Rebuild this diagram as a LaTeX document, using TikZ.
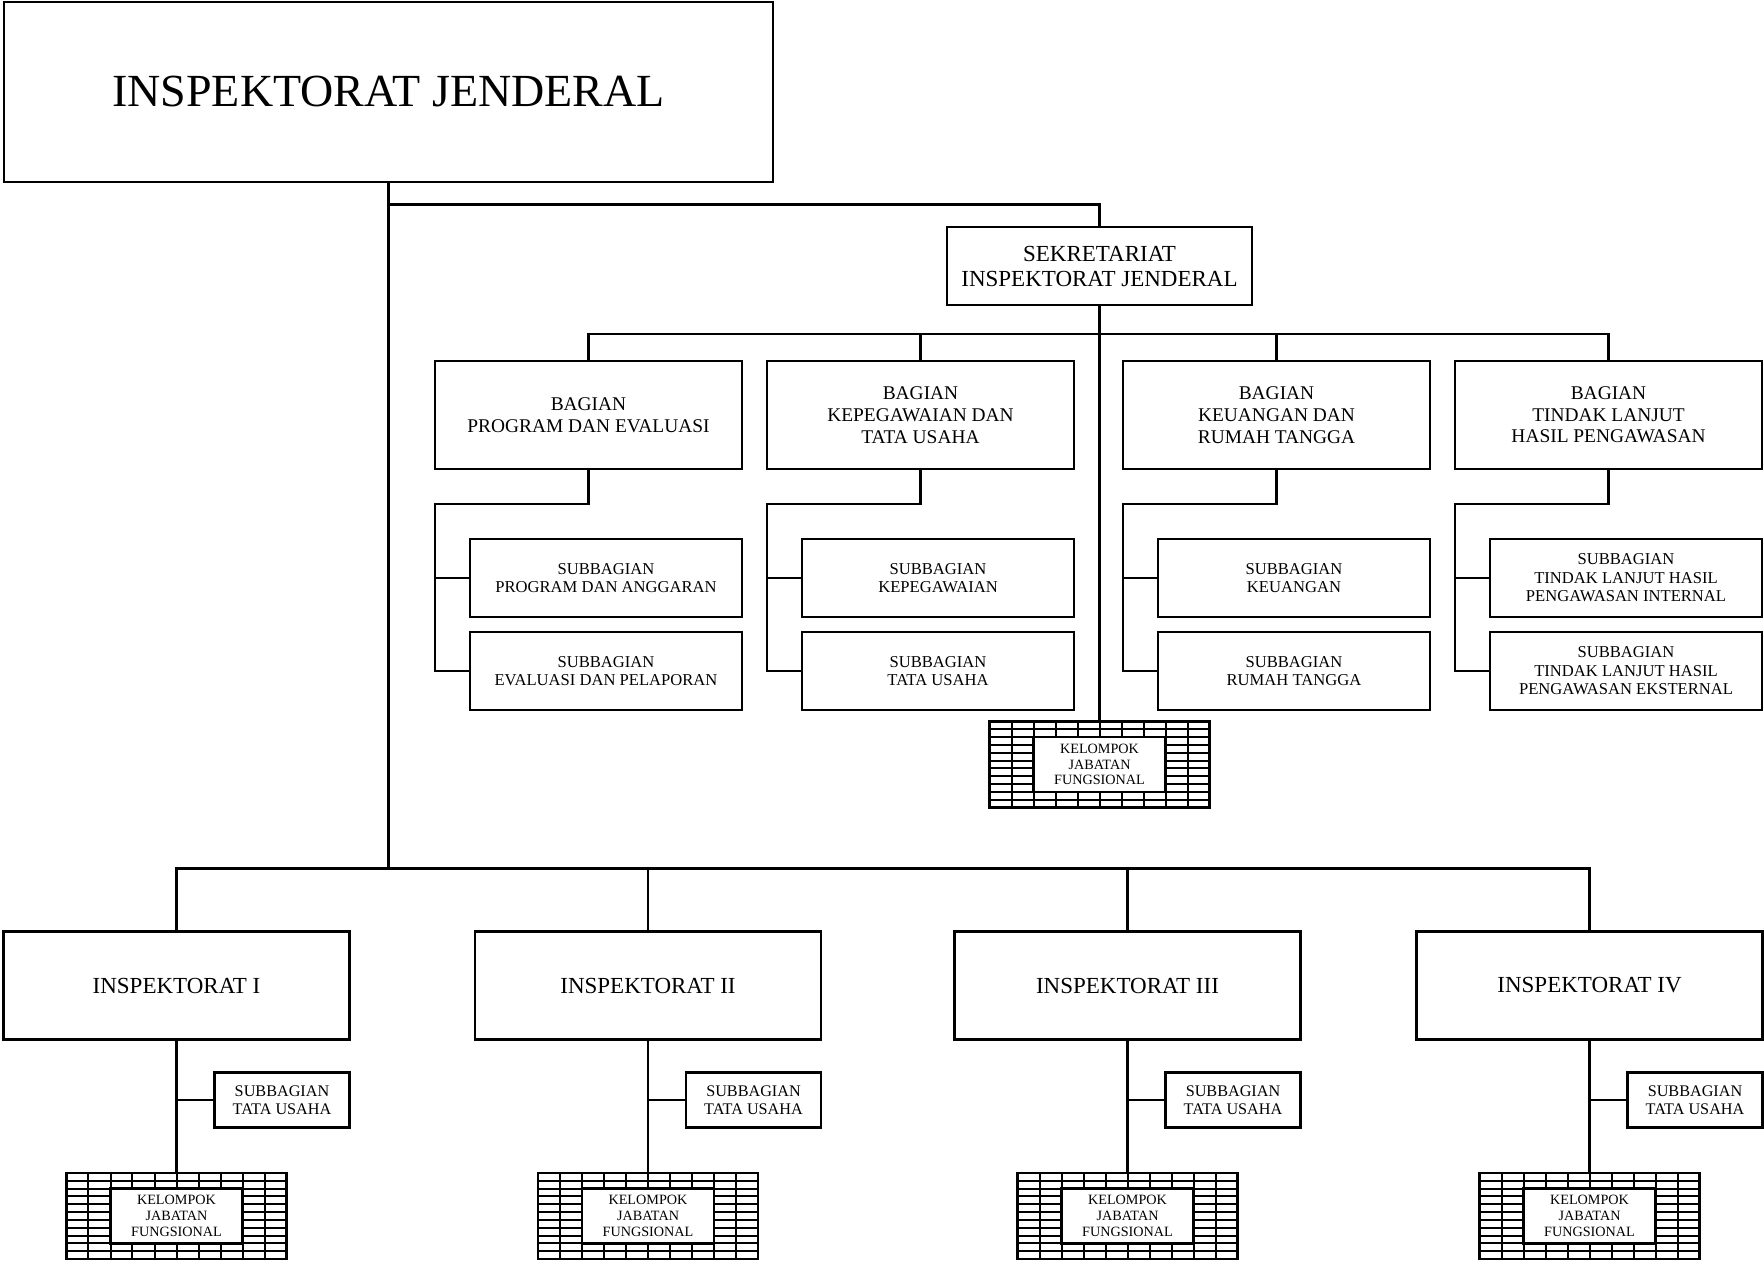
\documentclass[tikz,border=0pt]{standalone}
\usepackage{fontspec}
\setmainfont{Liberation Serif}
\usetikzlibrary{%
	calc,%
	positioning,%
}
\tikzset{
	nodes={align=center},
}
% box with a grid of bricks round the text
\newcommand{\kjfbox}[2]{%
	\node[kgrid, #2] (#1) {};
	\foreach \kc in {1,...,9}
		\draw[kline] ($(#1.south west)!\kc/10!(#1.south east)$) -- ($(#1.north west)!\kc/10!(#1.north east)$);
	\foreach \kr in {1,...,10}
		\draw[kline] ($(#1.south west)!\kr/11!(#1.north west)$) -- ($(#1.south east)!\kr/11!(#1.north east)$);
	\node[kjf] (#1in) at (#1) {KELOMPOK\\JABATAN\\FUNGSIONAL};
}

\begin{document}
\begin{tikzpicture}[x=0.5pt, y=-0.5pt,%
		box/.style={draw, line width=1.3pt, outer sep=0pt, inner sep=2pt},%
		line/.style={line width=1.2pt},%
		trunk/.style={line width=1.7pt},%
		head/.style={box, minimum width=384.5pt, minimum height=90pt, font=\fontsize{23}{27}\selectfont},%
		sekr/.style={box, minimum width=152.5pt, minimum height=39pt, font=\fontsize{11.5}{12.5}\selectfont},%
		bagian/.style={box, minimum width=153.5pt, minimum height=54pt, font=\fontsize{9.7}{10.85}\selectfont},%
		subbag/.style={box, minimum width=136pt, minimum height=39pt, font=\fontsize{8.3}{9.2}\selectfont},%
		insp/.style={box, minimum width=173pt, minimum height=54pt, font=\fontsize{11.5}{12.5}\selectfont},%
		tusaha/.style={box, minimum width=67.5pt, minimum height=27.5pt, inner sep=1pt, font=\fontsize{8.1}{9.2}\selectfont},%
		kgrid/.style={draw, line width=1.3pt, outer sep=0pt, inner sep=0pt, minimum width=110pt, minimum height=43pt},%
		kline/.style={line width=1pt},%
		kjf/.style={draw, fill=white, line width=1.3pt, outer sep=0pt, inner sep=0pt, minimum width=66pt, minimum height=27.4pt, font=\fontsize{7.1}{7.9}\selectfont}]
	\useasboundingbox (0,0) rectangle (1764,1261);

	\node[head] (ij) at (388.5,92) {INSPEKTORAT JENDERAL};
	\node[sekr] (sek) at (1099.5,266) {SEKRETARIAT\\INSPEKTORAT JENDERAL};

	\node[bagian] (bpe) at (588.5,415) {BAGIAN\\PROGRAM DAN EVALUASI};
	\node[bagian] (bktu) at (920.5,415) {BAGIAN\\KEPEGAWAIAN DAN\\TATA USAHA};
	\node[bagian] (bkrt) at (1276.5,415) {BAGIAN\\KEUANGAN DAN\\RUMAH TANGGA};
	\node[bagian] (btl) at (1608.5,415) {BAGIAN\\TINDAK LANJUT\\HASIL PENGAWASAN};

	\node[subbag] (spa) [below left=35pt and 0pt of bpe.south east] {SUBBAGIAN\\PROGRAM DAN ANGGARAN};
	\node[subbag] (sep) [below=7.5pt of spa] {SUBBAGIAN\\EVALUASI DAN PELAPORAN};
	\node[subbag] (skp) [below left=35pt and 0pt of bktu.south east] {SUBBAGIAN\\KEPEGAWAIAN};
	\node[subbag] (stu) [below=7.5pt of skp] {SUBBAGIAN\\TATA USAHA};
	\node[subbag] (sku) [below left=35pt and 0pt of bkrt.south east] {SUBBAGIAN\\KEUANGAN};
	\node[subbag] (srt) [below=7.5pt of sku] {SUBBAGIAN\\RUMAH TANGGA};
	\node[subbag] (sti) [below left=35pt and 0pt of btl.south east] {SUBBAGIAN\\TINDAK LANJUT HASIL\\PENGAWASAN INTERNAL};
	\node[subbag] (ste) [below=7.5pt of sti] {SUBBAGIAN\\TINDAK LANJUT HASIL\\PENGAWASAN EKSTERNAL};

	\kjfbox{kjfs}{below=208.25pt of sek}

	\node[insp] (insp1) at (176.5,985.5) {INSPEKTORAT I};
	\node[insp] (insp2) at (648,985.5) {INSPEKTORAT II};
	\node[insp] (insp3) at (1127.5,985.5) {INSPEKTORAT III};
	\node[insp] (insp4) at (1589.5,985.5) {INSPEKTORAT IV};

	\node[tusaha] (tu1) [below left=16.5pt and 0pt of insp1.south east] {SUBBAGIAN\\TATA USAHA};
	\node[tusaha] (tu2) [below left=16.5pt and 0pt of insp2.south east] {SUBBAGIAN\\TATA USAHA};
	\node[tusaha] (tu3) [below left=16.5pt and 0pt of insp3.south east] {SUBBAGIAN\\TATA USAHA};
	\node[tusaha] (tu4) [below left=16.5pt and 0pt of insp4.south east] {SUBBAGIAN\\TATA USAHA};

	\kjfbox{kjf1}{below=66.75pt of insp1}
	\kjfbox{kjf2}{below=66.75pt of insp2}
	\kjfbox{kjf3}{below=66.75pt of insp3}
	\kjfbox{kjf4}{below=66.75pt of insp4}

	\coordinate (sekj) at (388.5,204.5);
	\coordinate (bagj) at (1099.5,334);
	\coordinate (inspj) at (388.5,868.5);

	\draw[trunk] (ij.south) -- (inspj);
	\draw[line] (sekj) -| (sek.north);
	\draw[line] (sek.south) -- (kjfs.north);

	\draw[line] (bpe.north) |- (bagj) -| (btl.north);
	\draw[line] (bktu.north) -- (bktu.north |- bagj);
	\draw[line] (bkrt.north) -- (bkrt.north |- bagj);

	\draw[line] (bpe.south) -- ++(0,35) -| (bpe.south west |- sep.west) -- (sep.west);
	\draw[line] (bpe.south west |- spa.west) -- (spa.west);
	\draw[line] (bktu.south) -- ++(0,35) -| (bktu.south west |- stu.west) -- (stu.west);
	\draw[line] (bktu.south west |- skp.west) -- (skp.west);
	\draw[line] (bkrt.south) -- ++(0,35) -| (bkrt.south west |- srt.west) -- (srt.west);
	\draw[line] (bkrt.south west |- sku.west) -- (sku.west);
	\draw[line] (btl.south) -- ++(0,35) -| (btl.south west |- ste.west) -- (ste.west);
	\draw[line] (btl.south west |- sti.west) -- (sti.west);

	\draw[line] (insp1.north) |- (inspj) -| (insp4.north);
	\draw[line] (insp2.north) -- (insp2.north |- inspj);
	\draw[line] (insp3.north) -- (insp3.north |- inspj);

	\draw[line] (insp1.south) -- (kjf1.north);
	\draw[line] (insp1.south |- tu1.west) -- (tu1.west);
	\draw[line] (insp2.south) -- (kjf2.north);
	\draw[line] (insp2.south |- tu2.west) -- (tu2.west);
	\draw[line] (insp3.south) -- (kjf3.north);
	\draw[line] (insp3.south |- tu3.west) -- (tu3.west);
	\draw[line] (insp4.south) -- (kjf4.north);
	\draw[line] (insp4.south |- tu4.west) -- (tu4.west);
\end{tikzpicture}
\end{document}
